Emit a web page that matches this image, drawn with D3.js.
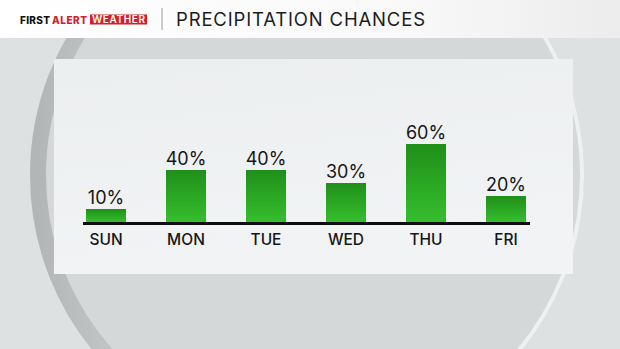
<!DOCTYPE html>
<html>
<head>
<meta charset="utf-8">
<script src="https://cdn.jsdelivr.net/npm/d3@7"></script>
<style>
  html, body { margin: 0; padding: 0; background: #dde1e2; }
  svg { display: block; }
  text { font-family: Inter, "Noto Sans", sans-serif; }
</style>
</head>
<body>
<svg id="chart"></svg>
<script>
// data
const days = ["SUN", "MON", "TUE", "WED", "THU", "FRI"];
const chances = [10, 40, 40, 30, 60, 20];
const valueLabels = ["10%", "40%", "40%", "30%", "60%", "20%"];

const title = "PRECIPITATION CHANCES";

function init() {
	let width = 620, height = 349;
	let svg = d3.select("svg#chart")
		.attr("width", width)
		.attr("height", height);

	let defs = svg.append("defs");

	let barGrad = defs.append("linearGradient")
		.attr("id", "barGrad")
		.attr("x1", 0).attr("y1", 0).attr("x2", 0).attr("y2", 1);
	barGrad.append("stop").attr("offset", "0%").attr("stop-color", "#1f8f19");
	barGrad.append("stop").attr("offset", "100%").attr("stop-color", "#36be2e");

	let headGrad = defs.append("linearGradient")
		.attr("id", "headGrad")
		.attr("x1", 0).attr("y1", 0).attr("x2", 1).attr("y2", 0);
	headGrad.append("stop").attr("offset", "0%").attr("stop-color", "#ffffff");
	headGrad.append("stop").attr("offset", "65%").attr("stop-color", "#f9f9f9");
	headGrad.append("stop").attr("offset", "100%").attr("stop-color", "#ececec");

	let panelGrad = defs.append("linearGradient")
		.attr("id", "panelGrad")
		.attr("x1", 0).attr("y1", 0).attr("x2", 0.3).attr("y2", 1);
	panelGrad.append("stop").attr("offset", "0%").attr("stop-color", "#eceff0");
	panelGrad.append("stop").attr("offset", "100%").attr("stop-color", "#f1f3f4");

	// dark shade on the left rim of the big circle
	let shadeGrad = defs.append("linearGradient")
		.attr("id", "shadeGrad")
		.attr("x1", 0).attr("y1", 0).attr("x2", 1).attr("y2", 0);
	shadeGrad.append("stop").attr("offset", "0%").attr("stop-color", "#b3b6b7").attr("stop-opacity", 1);
	shadeGrad.append("stop").attr("offset", "30%").attr("stop-color", "#c6c9ca").attr("stop-opacity", 0.5);
	shadeGrad.append("stop").attr("offset", "55%").attr("stop-color", "#d4d8d9").attr("stop-opacity", 0);

	// light rim on the right
	let rimGrad = defs.append("linearGradient")
		.attr("id", "rimGrad")
		.attr("x1", 0).attr("y1", 0).attr("x2", 1).attr("y2", 0);
	rimGrad.append("stop").attr("offset", "55%").attr("stop-color", "#eef1f2").attr("stop-opacity", 0);
	rimGrad.append("stop").attr("offset", "85%").attr("stop-color", "#eef1f2").attr("stop-opacity", 1);

	// background
	svg.append("rect")
		.attr("width", width).attr("height", height)
		.attr("fill", "#dde1e2");

	let cx = 307, cy = 175, r = 277;
	svg.append("circle")
		.attr("cx", cx).attr("cy", cy).attr("r", r)
		.attr("fill", "#d4d8d9");
	svg.append("circle")
		.attr("cx", cx).attr("cy", cy).attr("r", r - 8)
		.attr("fill", "none")
		.attr("stroke", "url(#shadeGrad)")
		.attr("stroke-width", 16);
	svg.append("circle")
		.attr("cx", cx).attr("cy", cy).attr("r", r - 2)
		.attr("fill", "none")
		.attr("stroke", "url(#rimGrad)")
		.attr("stroke-width", 4);

	// header
	svg.append("rect")
		.attr("width", width).attr("height", 38)
		.attr("fill", "url(#headGrad)");

	let logo = svg.append("g").attr("class", "logo");
	logo.append("text")
		.attr("x", 20).attr("y", 23.5)
		.attr("font-size", 10).attr("font-weight", 800)
		.attr("fill", "#111")
		.attr("textLength", 30)
		.text("FIRST");
	logo.append("text")
		.attr("x", 52).attr("y", 23.5)
		.attr("font-size", 10).attr("font-weight", 800)
		.attr("fill", "#d1202a")
		.attr("textLength", 35)
		.text("ALERT");
	logo.append("rect")
		.attr("x", 90).attr("y", 14.5)
		.attr("width", 57).attr("height", 10)
		.attr("fill", "#d1202a");
	logo.append("text")
		.attr("x", 92).attr("y", 23.3)
		.attr("font-size", 10).attr("font-weight", 600)
		.attr("fill", "#fff")
		.attr("textLength", 53)
		.text("WEATHER");

	svg.append("line")
		.attr("x1", 162).attr("x2", 162)
		.attr("y1", 8).attr("y2", 30)
		.attr("stroke", "#9a9a9a").attr("stroke-width", 1);

	svg.append("text")
		.attr("x", 176).attr("y", 26)
		.attr("font-size", 18.5)
		.attr("fill", "#1c1c1c")
		.attr("textLength", 249)
		.text(title);

	// panel
	svg.append("rect")
		.attr("x", 54).attr("y", 59)
		.attr("width", 519).attr("height", 215)
		.attr("fill", "url(#panelGrad)");

	// scales
	let x = d3.scaleBand()
		.domain(days)
		.range([66, 546])
		.paddingInner(0.5)
		.paddingOuter(0.25);

	let y = d3.scaleLinear()
		.domain([0, 60])
		.range([222, 144]);

	let data = days.map((d, i) => ({day: d, value: chances[i], label: valueLabels[i]}));

	svg.selectAll("rect.bar")
		.data(data)
		.enter().append("rect")
		.attr("class", "bar")
		.attr("x", d => x(d.day))
		.attr("y", d => y(d.value))
		.attr("width", x.bandwidth())
		.attr("height", d => y(0) - y(d.value))
		.attr("fill", "url(#barGrad)");

	svg.selectAll("text.value")
		.data(data)
		.enter().append("text")
		.attr("class", "value")
		.attr("x", d => x(d.day) + x.bandwidth() / 2)
		.attr("y", d => y(d.value) - 5)
		.attr("text-anchor", "middle")
		.attr("font-size", 18)
		.attr("fill", "#161616")
		.text(d => d.label);

	// baseline
	svg.append("line")
		.attr("x1", x(days[0]) - 3)
		.attr("x2", x(days[days.length - 1]) + x.bandwidth() + 4)
		.attr("y1", y(0) + 1.5).attr("y2", y(0) + 1.5)
		.attr("stroke", "#0d0d0d")
		.attr("stroke-width", 3);

	svg.selectAll("text.day")
		.data(days)
		.enter().append("text")
		.attr("class", "day")
		.attr("x", d => x(d) + x.bandwidth() / 2)
		.attr("y", 245)
		.attr("text-anchor", "middle")
		.attr("font-size", 15.5)
		.attr("font-weight", 500)
		.attr("fill", "#161616")
		.text(d => d);
}

init();
</script>
</body>
</html>
